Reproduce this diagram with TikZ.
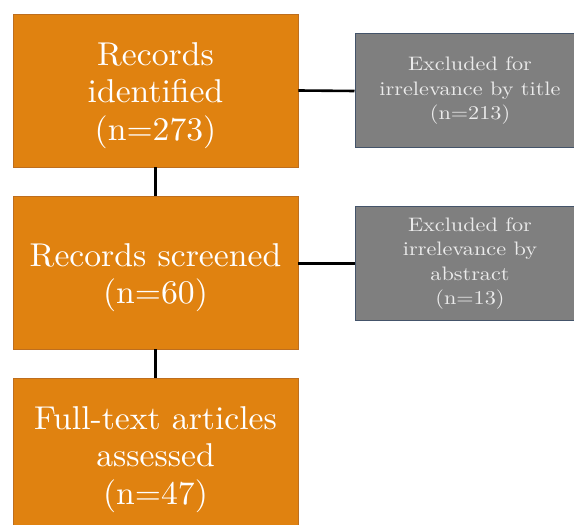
\documentclass[tikz,border=0pt]{standalone}
\usepackage{fontspec}
\usepackage{tikz}
\newfontfamily\stagefont{lmroman10-regular}[Extension=.otf, FakeStretch=1.02]
\newfontfamily\exclfont{lmroman10-regular}[Extension=.otf, FakeStretch=1.14]
\newcommand\stagestrut{\rule{0pt}{33pt}}% taller first line, text sits a little lower
\definecolor{stageorange}{RGB}{224,130,16}
\definecolor{stageedge}{RGB}{190,110,30}
\definecolor{exclgray}{RGB}{127,127,127}
\definecolor{excledge}{RGB}{68,84,106}
\tikzset{
  stage/.style={draw=stageedge, line width=0.8pt, fill=stageorange, text=white,
    minimum width=285pt, minimum height=153pt, align=center, inner sep=0pt,
    font=\stagefont\fontsize{33}{37.5}\selectfont},
  excl/.style={draw=excledge, line width=1pt, fill=exclgray, text=white!92!black,
    minimum width=230pt, minimum height=114pt, align=center, inner sep=0pt,
    font=\exclfont\fontsize{19.5}{24.5}\selectfont},
  link/.style={black, line width=2.6pt}
}
\begin{document}
\begin{tikzpicture}[x=1pt,y=1pt]
  \useasboundingbox (0,0) rectangle (574,525);
  \clip (0,0) rectangle (574,525);
  % main stages
  \node[stage] (ident) at (155.5,434.5) {\stagestrut Records\\identified\\(n=273)};
  \node[stage] (scr) at (155.5,252.5) {\stagestrut Records screened\\(n=60)};
  \node[stage] (full) at (155.5,70.5) {\stagestrut Full-text articles\\assessed\\(n=47)};
  % exclusions
  \node[excl] (exttl) at (470,434) {Excluded for\\irrelevance by title\\(n=213)};
  \node[excl] (exabs) at (470,261.5) {Excluded for\\irrelevance by\\abstract\\(n=13)};
  % connectors
  \draw[link] (ident.south) -- (scr.north);
  \draw[link] (scr.south) -- (full.north);
  \draw[link] (ident.east) -- (exttl.west);
  \draw[link] (exabs.west -| scr.east) -- (exabs.west);
\end{tikzpicture}
\end{document}
